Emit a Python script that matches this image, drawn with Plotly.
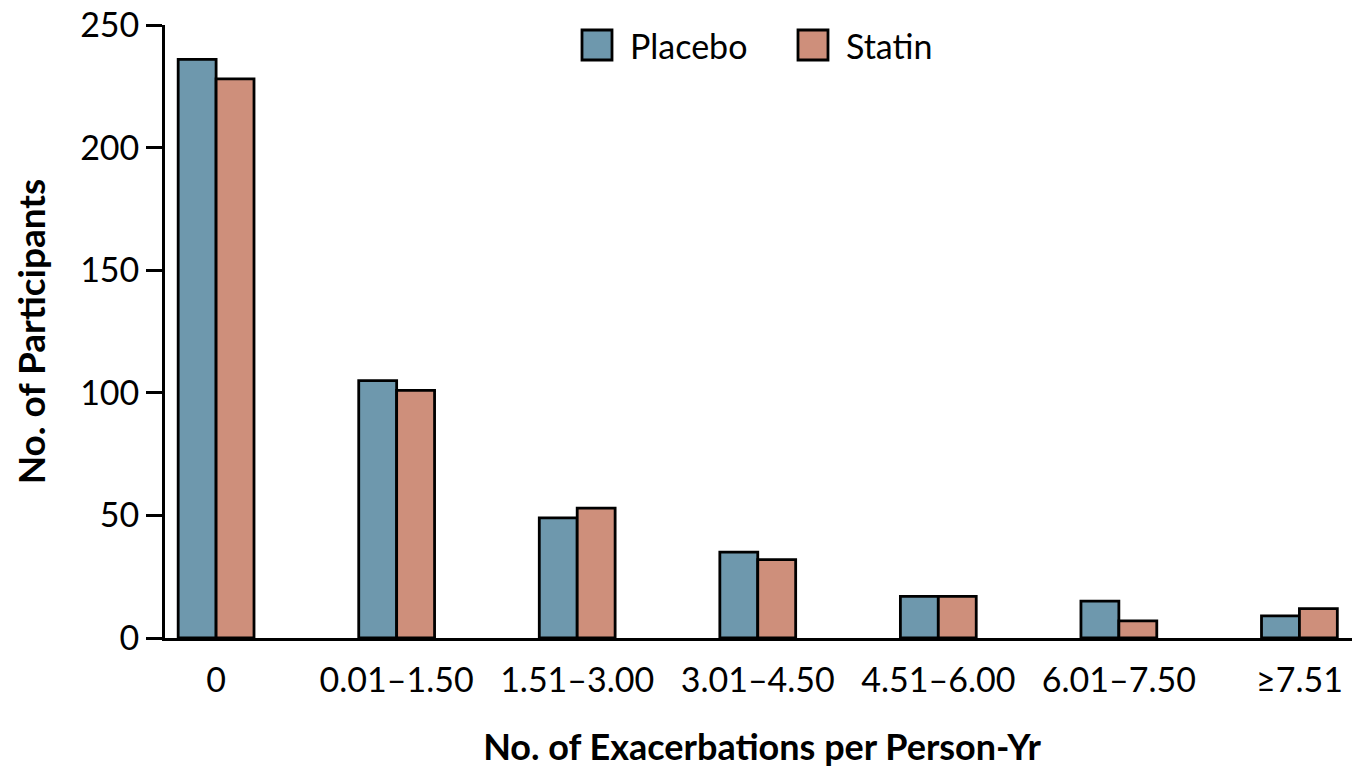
import plotly.graph_objects as go

categories = ["0", "0.01–1.50", "1.51–3.00", "3.01–4.50", "4.51–6.00", "6.01–7.50", "≥7.51"]
placebo = [236, 105, 49, 35, 17, 15, 9]
statin = [228, 101, 53, 32, 17, 7, 12]
y_ticks = [0, 50, 100, 150, 200, 250]

BLUE = "#6E98AD"
SALMON = "#CE8F7B"
FONT = "Lato, Liberation Sans, sans-serif"

# plot area in figure pixels (page adds an 8px body margin)
PL, PR, PT, PB = 157, 1351, 17, 630
PW, PH = PR - PL, PB - PT

fig = go.Figure()
fig.add_bar(x=categories, y=placebo, name="Placebo", marker=dict(color=BLUE, line=dict(color="black", width=2.8)))
fig.add_bar(x=categories, y=statin, name="Statin", marker=dict(color=SALMON, line=dict(color="black", width=2.8)))

fig.update_layout(
    width=1360, height=770,
    margin=dict(l=PL, r=1360 - PR, t=PT, b=770 - PB, autoexpand=False),
    barmode="group", bargap=0.58, bargroupgap=0,
    plot_bgcolor="white", paper_bgcolor="white",
    showlegend=False,
    font=dict(family=FONT, size=34, color="black"),
    xaxis=dict(
        type="category", range=[-0.283, 6.33], automargin=False,
        showline=True, linecolor="black", linewidth=2.8,
        ticks="", ticklabelstandoff=10, ticklabeloverflow="allow",
        tickfont=dict(size=34),
        title=dict(text="<b>No. of Exacerbations per Person-Yr</b>", font=dict(size=36), standoff=38),
        showgrid=False, zeroline=False,
    ),
    yaxis=dict(
        range=[0, 250], tickvals=y_ticks, automargin=False,
        showline=True, linecolor="black", linewidth=2.8,
        ticks="outside", ticklen=16, tickwidth=2.8, tickcolor="black",
        tickfont=dict(size=34), ticklabeloverflow="allow",
        title=dict(text="<b>No. of Participants</b>", font=dict(size=37), standoff=28),
        showgrid=False, zeroline=False,
    ),
)

# legend drawn manually to get large swatches
legend_items = [("Placebo", BLUE, 574), ("Statin", SALMON, 790)]
for name, color, x0 in legend_items:
    fig.add_shape(type="rect", xref="paper", yref="paper",
                  x0=(x0 - PL) / PW, x1=(x0 + 30 - PL) / PW,
                  y0=(PB - 52) / PH, y1=(PB - 22) / PH,
                  fillcolor=color, line=dict(color="black", width=2.8))
    fig.add_annotation(xref="paper", yref="paper", x=(x0 + 46 - PL) / PW, y=(PB - 37) / PH,
                       text=name, showarrow=False, xanchor="left", yanchor="middle",
                       font=dict(size=34, family=FONT))

fig.write_html("out.html")
